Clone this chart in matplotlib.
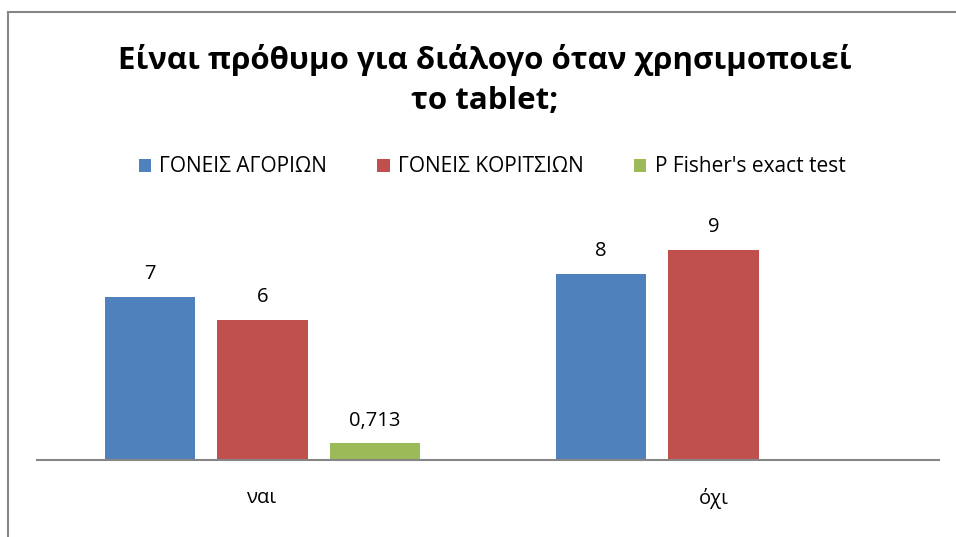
import matplotlib.pyplot as plt
from matplotlib.patches import Rectangle
import numpy as np

plt.rcParams['font.family'] = ['Open Sans', 'DejaVu Sans']

categories = ["ναι", "όχι"]
series_names = ["ΓΟΝΕΙΣ ΑΓΟΡΙΩΝ", "ΓΟΝΕΙΣ ΚΟΡΙΤΣΙΩΝ", "P Fisher's exact test"]
boys = [7, 8]
girls = [6, 9]
fisher = [0.713, None]
labels_fmt = ["{:g}", "{:g}", "{:.3f}"]
colors = ["#4F81BD", "#C0504D", "#9BBB59"]

fig = plt.figure(figsize=(9.56, 5.37), dpi=100)
ax = fig.add_axes([37 / 956, 77 / 537, 902 / 956, 233 / 537])

x = np.arange(len(categories))
width = 0.2
offsets = [-0.25, 0, 0.25]
for vals, name, col, off, fmt in zip([boys, girls, fisher], series_names, colors, offsets, labels_fmt):
    xs = [xi + off for xi, v in zip(x, vals) if v is not None]
    ys = [v for v in vals if v is not None]
    ax.bar(xs, ys, width=width, color=col, label=name)
    for xi, v in zip(xs, ys):
        ax.text(xi, v + 0.55, fmt.format(v).replace(".", ","), ha="center", va="bottom", fontsize=14.5)

ax.set_xlim(-0.5, 1.5)
ax.set_ylim(0, 10)
ax.set_xticks(x)
ax.set_xticklabels(categories, fontsize=14.5)
ax.tick_params(axis="x", length=0, pad=20)
ax.set_yticks([])
for s in ["top", "right", "left"]:
    ax.spines[s].set_visible(False)
ax.spines["bottom"].set_color("#868686")
ax.spines["bottom"].set_linewidth(1.5)

fig.text(485 / 956, 1 - 80 / 537, "Είναι πρόθυμο για διάλογο όταν χρησιμοποιεί\nτο tablet;",
         ha="center", va="center", fontsize=22.5, fontweight="bold", linespacing=1.4)

fig.legend(loc="center", bbox_to_anchor=(492 / 956, 1 - 167 / 537), ncol=3, frameon=False,
           fontsize=15, handlelength=0.6, handleheight=0.6, handletextpad=0.4, columnspacing=2.4)

fig.patches.append(Rectangle((8 / 956, -0.1), 1.2, 1 - 12 / 537 + 0.1, transform=fig.transFigure,
                             fill=False, edgecolor="#868686", linewidth=1.5))

fig.savefig("out.png", dpi=100)
